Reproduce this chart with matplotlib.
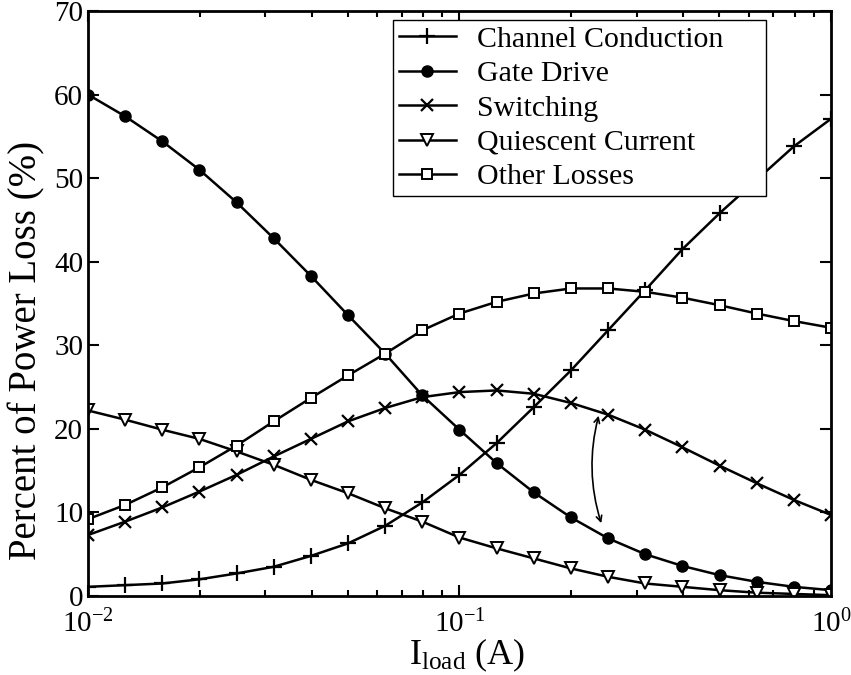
import numpy as np
import matplotlib
matplotlib.use("Agg")
import matplotlib.pyplot as plt
from matplotlib.ticker import LogLocator, NullFormatter, FixedLocator

plt.rcParams['font.family'] = ['Liberation Serif', 'DejaVu Serif']
plt.rcParams['mathtext.fontset'] = 'custom'
plt.rcParams['mathtext.rm'] = 'Liberation Serif'
plt.rcParams['mathtext.it'] = 'Liberation Serif:italic'

# load current, 10 points per decade from 10^-2 to 10^0
exponents = [-2 + k / 10 for k in range(21)]
i_load = [10 ** e for e in exponents]

channel = [1.1, 1.3, 1.5, 2.0, 2.7, 3.5, 4.8, 6.3, 8.4, 11.2, 14.5, 18.3, 22.6,
           27.0, 31.8, 36.6, 41.5, 45.8, 49.8, 53.8, 57.1]
gate = [60.0, 57.4, 54.4, 51.0, 47.1, 42.8, 38.3, 33.6, 29.0, 24.0, 19.9, 15.9,
        12.4, 9.4, 6.9, 5.0, 3.6, 2.5, 1.7, 1.1, 0.7]
switching = [7.3, 8.9, 10.6, 12.5, 14.5, 16.7, 18.8, 20.9, 22.5, 23.8, 24.4, 24.6,
             24.2, 23.1, 21.7, 19.9, 17.8, 15.6, 13.5, 11.5, 9.7]
quiescent = [22.2, 21.1, 19.9, 18.8, 17.3, 15.7, 13.9, 12.3, 10.5, 8.9, 7.0, 5.7,
             4.5, 3.3, 2.3, 1.5, 1.1, 0.7, 0.4, 0.25, 0.1]
other = [9.2, 10.9, 13.0, 15.4, 18.0, 20.9, 23.7, 26.4, 29.0, 31.8, 33.8, 35.2,
         36.2, 36.8, 36.8, 36.4, 35.7, 34.8, 33.8, 32.9, 32.1]

labels = ['Channel Conduction', 'Gate Drive', 'Switching', 'Quiescent Current', 'Other Losses']
yticks = [0, 10, 20, 30, 40, 50, 60, 70]
xticks = [0.01, 0.1, 1]
xticklabels = [r'$\mathregular{10^{-2}}$', r'$\mathregular{10^{-1}}$', r'$\mathregular{10^{0}}$']

fig = plt.figure(figsize=(8.51, 6.75), dpi=100)
ax = fig.add_axes([0.1034, 0.117, 0.8731, 0.8667])

ax.plot(i_load, channel, color='black', lw=1.8, marker='+', ms=11, mew=1.6, label=labels[0] + '     ')
ax.plot(i_load, gate, color='black', lw=1.8, marker='o', ms=8, label=labels[1])
ax.plot(i_load, switching, color='black', lw=1.8, marker='x', ms=8, mew=1.6, label=labels[2])
ax.plot(i_load, quiescent, color='black', lw=1.8, marker='v', ms=9, mfc='white', mew=1.4, label=labels[3])
ax.plot(i_load, other, color='black', lw=1.8, marker='s', ms=7.5, mfc='white', mew=1.4, label=labels[4])

ax.set_xscale('log')
ax.set_xlim(0.01, 1)
ax.set_ylim(0, 70)
ax.set_yticks(yticks)
ax.xaxis.set_major_locator(FixedLocator(xticks))
ax.set_xticklabels(xticklabels)
ax.xaxis.set_minor_locator(LogLocator(base=10, subs=np.arange(2, 10)))
ax.xaxis.set_minor_formatter(NullFormatter())

ax.tick_params(which='both', direction='in', top=True, right=True, width=1.5, labelsize=21)
ax.tick_params(which='major', length=8)
ax.tick_params(which='minor', length=4)
ax.tick_params(axis='x', pad=10)
for s in ax.spines.values():
    s.set_linewidth(2)

ax.set_ylabel('Percent of Power Loss (%)', fontsize=28)
ax.yaxis.set_label_coords(-0.057, 0.42)
ax.set_xlabel(r'I$_{\mathregular{load}}$ (A)', fontsize=26)
ax.xaxis.set_label_coords(0.51, -0.07)

# hand-drawn arrow between switching and gate drive
ax.annotate('', xy=(0.242, 8.4), xytext=(0.238, 21.9),
            arrowprops=dict(arrowstyle='<->', color='black', lw=1.2,
                            connectionstyle='arc3,rad=0.15'))

leg = ax.legend(loc='upper left', bbox_to_anchor=(0.4618, 0.9704), bbox_transform=fig.transFigure,
                borderaxespad=0, fontsize=21.5, frameon=True, fancybox=False, edgecolor='black',
                framealpha=1, handlelength=1.9, labelspacing=0.25, borderpad=0.2,
                handletextpad=0.7)
leg.get_frame().set_linewidth(1.0)

fig.savefig('out.png', dpi=100)
